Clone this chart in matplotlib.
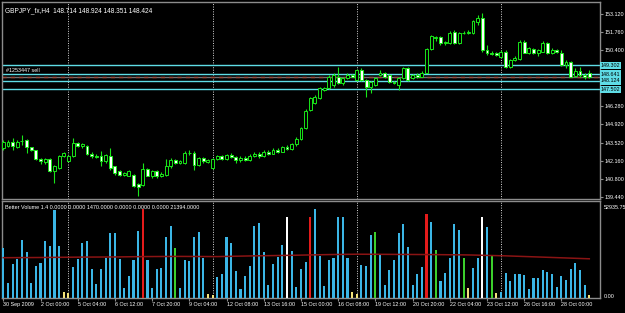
import numpy as np
import matplotlib
matplotlib.use("Agg")
import matplotlib.pyplot as plt

plt.rcParams["font.family"] = ["Liberation Sans", "DejaVu Sans"]

# GBPJPY H4 candles (one row per bar)
opens = [143.11, 143.28, 143.60, 143.23, 143.62, 143.68, 143.18, 142.98, 142.29, 142.05,
         142.29, 141.37, 141.62, 142.50, 142.12, 142.49, 143.48, 143.30, 143.28, 142.70,
         142.55, 142.49, 142.12, 142.49, 141.74, 141.37, 141.12, 141.05, 141.12, 140.45,
         140.38, 141.55, 141.00, 141.37, 141.05, 141.12, 141.74, 142.20, 142.00, 142.00,
         142.74, 142.74, 141.87, 142.37, 142.10, 141.62, 142.29, 142.49, 142.30, 142.60,
         142.45, 142.20, 142.40, 142.25, 142.55, 142.70, 142.50, 142.85, 142.70, 143.00,
         142.85, 143.20, 143.05, 143.40, 143.80, 144.60, 145.97, 146.47, 146.84, 147.46,
         147.58, 147.83, 148.45, 147.96, 148.33, 148.55, 148.20, 148.95, 148.20, 147.71,
         147.83, 148.58, 148.70, 148.58, 148.08, 147.83, 148.33, 149.07, 148.33, 148.58,
         148.45, 148.75, 150.48, 151.30, 151.38, 150.93, 150.98, 151.80, 150.93, 151.68,
         151.70, 151.73, 152.55, 152.79, 150.43, 150.24, 150.19, 149.94, 150.31, 149.19,
         149.69, 149.74, 151.06, 150.24, 150.48, 150.19, 150.31, 150.98, 150.24, 150.43,
         150.24, 149.30, 149.56, 148.50, 148.85, 148.55, 148.714]
highs = [143.73, 143.75, 143.85, 143.70, 144.10, 143.78, 143.20, 143.00, 142.40, 142.40,
         142.35, 141.85, 142.60, 142.80, 142.60, 143.86, 143.60, 143.50, 143.35, 142.80,
         142.65, 142.86, 142.70, 143.11, 141.80, 141.45, 141.30, 141.45, 141.20, 140.50,
         142.00, 141.60, 141.45, 141.45, 141.30, 142.29, 142.35, 142.30, 142.25, 142.86,
         143.00, 142.86, 142.45, 142.45, 142.30, 142.35, 142.60, 142.60, 142.70, 142.75,
         142.50, 142.50, 142.50, 142.65, 142.85, 142.80, 142.95, 143.00, 143.10, 143.10,
         143.30, 143.35, 143.50, 143.95, 144.70, 146.00, 146.95, 147.05, 147.65, 147.70,
         148.55, 148.70, 149.20, 148.40, 148.70, 148.65, 149.05, 149.10, 148.30, 148.15,
         148.40, 148.95, 148.80, 148.65, 148.15, 148.40, 149.15, 149.15, 148.65, 148.70,
         148.85, 150.55, 151.55, 151.45, 151.45, 151.10, 151.85, 151.92, 151.80, 151.85,
         151.90, 152.70, 153.04, 153.22, 150.81, 150.35, 150.30, 150.40, 150.40, 149.75,
         150.00, 151.20, 151.20, 150.65, 150.60, 150.50, 151.10, 151.06, 150.56, 150.50,
         150.40, 149.70, 149.65, 149.10, 149.19, 148.70, 148.924]
lows = [142.98, 143.20, 142.98, 143.10, 143.36, 142.74, 142.90, 142.25, 141.95, 141.95,
        141.30, 140.50, 141.55, 142.45, 142.05, 142.45, 143.20, 143.15, 142.60, 142.40,
        142.35, 141.74, 142.00, 141.50, 141.10, 141.05, 141.00, 141.00, 140.20, 139.56,
        140.30, 141.00, 140.90, 140.90, 140.95, 141.05, 141.65, 141.95, 141.90, 141.95,
        142.60, 141.50, 141.80, 142.00, 142.00, 141.55, 142.20, 142.20, 142.20, 142.35,
        142.00, 142.10, 142.15, 142.15, 142.45, 142.40, 142.45, 142.60, 142.65, 142.75,
        142.80, 142.95, 143.00, 143.30, 143.70, 144.50, 145.85, 146.40, 146.75, 147.35,
        147.50, 147.70, 147.90, 147.85, 148.25, 148.40, 148.10, 148.10, 146.96, 147.21,
        147.75, 148.50, 148.35, 148.00, 147.90, 147.46, 148.25, 148.15, 148.25, 148.35,
        148.40, 148.70, 150.40, 151.10, 150.80, 150.80, 150.90, 150.85, 150.85, 151.60,
        151.60, 151.65, 152.30, 150.31, 150.06, 150.05, 150.00, 149.85, 149.10, 149.10,
        149.60, 149.70, 150.20, 150.10, 150.10, 150.00, 150.25, 150.15, 150.10, 150.20,
        149.25, 149.10, 148.40, 148.40, 148.45, 148.30, 148.351]
closes = [143.60, 143.60, 143.28, 143.60, 143.65, 143.18, 142.94, 142.29, 142.15, 142.30,
          141.37, 141.80, 142.54, 142.72, 142.54, 143.48, 143.30, 143.40, 142.66, 142.49,
          142.44, 142.12, 142.61, 141.62, 141.25, 141.12, 141.25, 141.37, 140.25, 140.21,
          141.55, 141.05, 141.37, 141.00, 141.20, 141.79, 142.24, 142.00, 142.15, 142.74,
          142.75, 141.87, 142.37, 142.12, 142.20, 142.29, 142.49, 142.30, 142.60, 142.45,
          142.20, 142.40, 142.25, 142.55, 142.70, 142.50, 142.85, 142.70, 143.00, 142.85,
          143.20, 143.05, 143.40, 143.80, 144.60, 145.90, 146.84, 146.96, 147.58, 147.58,
          148.45, 148.58, 147.96, 148.33, 148.60, 148.45, 148.95, 148.20, 147.71, 148.08,
          148.33, 148.70, 148.45, 148.08, 147.96, 148.33, 149.07, 148.20, 148.58, 148.45,
          148.75, 150.48, 151.48, 151.38, 150.93, 151.00, 151.73, 150.93, 151.73, 151.73,
          151.78, 152.62, 152.79, 150.43, 150.24, 150.14, 150.06, 150.31, 149.19, 149.69,
          149.81, 151.06, 150.24, 150.56, 150.19, 150.43, 150.98, 150.24, 150.43, 150.30,
          149.32, 149.56, 148.45, 148.90, 148.55, 148.45, 148.424]

# Better Volume 1.4 histogram
volumes = [27500, 8400, 18400, 21100, 31500, 25100, 8400, 17500, 19300, 31100,
           28400, 47900, 28400, 3500, 2900, 16900, 21100, 30200, 31100, 15700,
           7500, 15700, 22000, 35700, 35700, 21100, 5300, 12000, 20600, 36600,
           48400, 20600, 5300, 15700, 16600, 33500, 39300, 27500, 5300, 20600,
           20200, 33300, 36200, 21700, 2400, 1600, 11500, 13300, 33500, 30200,
           14700, 4700, 12000, 17500, 39300, 41100, 25300, 7100, 18700, 22400,
           28900, 44200, 25700, 6000, 15700, 19800, 44200, 48400, 22900, 6600,
           20600, 22000, 44200, 44200, 22000, 3300, 2400, 18000, 17300, 34400,
           36000, 23800, 7100, 15300, 20600, 35500, 40400, 27800, 6900, 13300,
           16900, 45700, 41700, 26000, 9300, 13800, 22000, 40200, 37300, 22000,
           5300, 16200, 22000, 44200, 38900, 22900, 2500, 3300, 13800, 9300,
           12900, 12900, 12600, 4700, 10700, 10700, 15300, 14400, 12900, 6200,
           12000, 9800, 16000, 18900, 15100, 6900, 1470]
# c=normal, r=climax high, g=high churn, w=climax low, y=low volume (10 bars per group)
vol_kind = list("cccccccccc" "cccyyccccc" "cccccccccc" "rccccccgcc" "ccccyycccc"
                "cccccccccc" "cwccccrccc" "cccccyyccc" "gccccccccc" "crcgcccccg"
                "yccwcgyccc" "cccccccccc" "ccccccy")

ma_bars = [0, 8, 16, 24, 30, 38, 46, 54, 62, 70, 76, 84, 92, 100, 108, 116, 126]
ma_vals = [22000, 22100, 22300, 22400, 22600, 22700, 22600, 23000, 23300, 23700,
           23900, 23800, 23700, 23500, 23000, 22300, 21394]

time_labels = ["30 Sep 2009", "2 Oct 00:00", "5 Oct 04:00", "6 Oct 12:00", "7 Oct 20:00",
               "9 Oct 04:00", "12 Oct 08:00", "13 Oct 16:00", "15 Oct 00:00", "16 Oct 08:00",
               "19 Oct 12:00", "20 Oct 20:00", "22 Oct 04:00", "23 Oct 12:00",
               "26 Oct 16:00", "28 Oct 00:00"]
price_ticks = [153.12, 151.76, 150.40, 146.28, 144.92, 143.52, 142.16, 140.80, 139.44]
week_starts = [14, 45, 76, 107]
order_levels = [149.302, 148.641, 148.124, 147.502]
bid = 148.424

kind_colors = {"c": "#3bb6e6", "r": "#e41b1b", "g": "#3ccf2c", "w": "#ffffff", "y": "#f2e27a"}
line_cyan = "#5fdde6"
frame = "#8c8c8c"
fs = 3.9

o = np.array(opens)
c = np.array(closes)
x = np.arange(len(o))

fig = plt.figure(figsize=(6.25, 3.13), dpi=100, facecolor="black")
ax = fig.add_axes([2 / 625, 114 / 313, 598 / 625, 197 / 313], facecolor="black")
axv = fig.add_axes([2 / 625, 15 / 313, 598 / 625, 97 / 313], facecolor="black", sharex=ax)

# candles: white body = bear, black body = bull, lime outline
ax.vlines(x, lows, highs, color="#19e619", linewidth=0.8, zorder=3)
bottoms = np.minimum(o, c)
heights = np.maximum(np.abs(c - o), 0.03)
body_col = np.where(c < o, "white", "black")
ax.bar(x, heights, bottom=bottoms, width=0.62, color=body_col, edgecolor="#19e619",
       linewidth=0.7, zorder=4)

for lv in order_levels:
    ax.axhline(lv, color=line_cyan, linewidth=1.0, zorder=2)
ax.axhline(bid, color="#707070", linewidth=1.0, zorder=2)
ax.axhline(bid, color="#9a4a3a", linewidth=1.0, dashes=(3, 3), zorder=2)
ax.text(0.5, 148.90, "#1253447 sell", color="white", fontsize=fs, va="center")

for w in week_starts:
    ax.axvline(w, color="#d8d8d8", linewidth=0.7, linestyle=(0, (1, 1.5)), zorder=1)
    axv.axvline(w, color="#d8d8d8", linewidth=0.7, linestyle=(0, (1, 1.5)), zorder=1)

ax.set_xlim(-0.28, 128.3)
ax.set_ylim(139.31, 154.02)
ax.yaxis.tick_right()
ax.set_yticks(price_ticks)
ax.set_yticklabels([f"{p:.3f}" for p in price_ticks])
ax.tick_params(axis="y", colors=frame, labelcolor="white", labelsize=fs, length=2, pad=1.5)
ax.tick_params(axis="x", bottom=False, labelbottom=False)

# order / price boxes on the right scale
for lv in [order_levels[0], bid, order_levels[1], order_levels[2], order_levels[3]]:
    ax.text(1.001, lv, f"{lv:.3f}", transform=ax.get_yaxis_transform(), fontsize=fs,
            color="black", va="center", ha="left", zorder=6,
            bbox=dict(boxstyle="square,pad=0.2", fc=line_cyan, ec="none"), clip_on=False)

ax.text(0.005, 0.975, "GBPJPY_fx,H4  148.714 148.924 148.351 148.424",
        transform=ax.transAxes, color="white", fontsize=4.7, va="top")

# volume panel
axv.bar(x, volumes, width=0.45, color=[kind_colors[k] for k in vol_kind], zorder=3)
axv.plot(ma_bars, ma_vals, color="#8a1414", linewidth=1.1, zorder=4)
axv.set_ylim(0, 52935.75)
axv.set_yticks([])
axv.text(1.006, 0.93, "52935.75", transform=axv.transAxes, color="white", fontsize=fs, va="center")
axv.text(1.006, 0.02, "0.00", transform=axv.transAxes, color="white", fontsize=fs, va="center")
axv.text(0.005, 0.955, "Better Volume 1.4 0.0000 0.0000 1470.0000 0.0000 0.0000 0.0000 21394.0000",
         transform=axv.transAxes, color="white", fontsize=fs, va="top")

axv.set_xticks(range(0, 121, 8))
axv.set_xticklabels(time_labels, ha="left")
axv.tick_params(axis="x", colors=frame, labelcolor="white", labelsize=fs, length=2, pad=1)

for a in (ax, axv):
    for s in a.spines.values():
        s.set_color(frame)
        s.set_linewidth(1.0)

fig.savefig("out.png", dpi=100, facecolor="black")
